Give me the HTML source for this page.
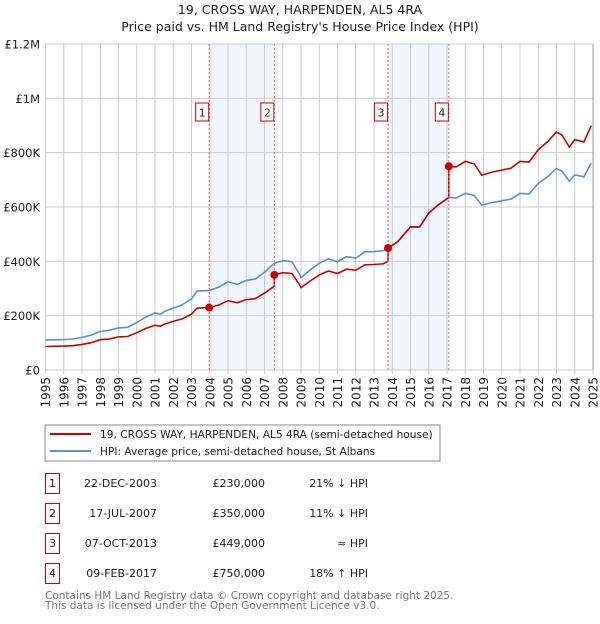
<!DOCTYPE html>
<html><head><meta charset="utf-8"><style>
body{margin:0;width:600px;height:620px;background:#fff;font-family:"DejaVu Sans","Liberation Sans",sans-serif;overflow:hidden}
svg text{font-family:"DejaVu Sans","Liberation Sans",sans-serif}
</style></head><body>
<svg id="c" width="600" height="620" xmlns="http://www.w3.org/2000/svg">
<text x="300" y="14" text-anchor="middle" font-size="12.5" fill="#222">19, CROSS WAY, HARPENDEN, AL5 4RA</text>
<text x="300" y="31" text-anchor="middle" font-size="12.5" fill="#222">Price paid vs. HM Land Registry's House Price Index (HPI)</text>
<g id="grid"></g><g id="marks"></g>
<rect x="45" y="425" width="395" height="36" fill="#fff" stroke="#888"/>
<line x1="50" y1="434" x2="91" y2="434" stroke="#cc0000" stroke-width="2"/>
<text x="100" y="438" font-size="10.6" fill="#222">19, CROSS WAY, HARPENDEN, AL5 4RA (semi-detached house)</text>
<line x1="50" y1="451" x2="91" y2="451" stroke="#5b8fd0" stroke-width="2"/>
<text x="100" y="455" font-size="10.6" fill="#222">HPI: Average price, semi-detached house, St Albans</text>
<g id="table"></g>
<text x="45" y="599" font-size="10.5" fill="#777">Contains HM Land Registry data © Crown copyright and database right 2025.</text>
<text x="45" y="609" font-size="10.5" fill="#777">This data is licensed under the Open Government Licence v3.0.</text>
</svg>
<script>
const hpiYears=[1995,1995.5,1996,1996.5,1997,1997.5,1998,1998.5,1999,1999.5,2000,2000.5,2001,2001.3,2001.5,2002,2002.5,2003,2003.3,2003.97,2004.5,2005,2005.5,2006,2006.5,2007,2007.54,2008,2008.5,2008.9,2009,2009.5,2010,2010.5,2011,2011.5,2012,2012.5,2013,2013.5,2013.77,2014.3,2015,2015.5,2016,2016.5,2017.1,2017.5,2018,2018.5,2018.9,2019.5,2020,2020.5,2021,2021.5,2022,2022.5,2023,2023.3,2023.7,2024,2024.5,2024.9];
const hpiValues=[110,111,112,114,120,128,142,146,155,157,175,195,210,205,215,228,240,262,290,293,305,325,315,330,335,360,393,402,399,355,340,368,393,409,399,417,412,435,436,439,449,472,527,526,578,607,635,633,650,642,607,617,623,629,650,648,687,711,742,732,695,718,711,761];
const saleDates=[2003.97,2007.54,2013.77,2017.1];
const salePrices=[230,350,449,750];
const saleLabels=["1","2","3","4"];
const saleDateText=["22-DEC-2003","17-JUL-2007","07-OCT-2013","09-FEB-2017"];
const salePriceText=["£230,000","£350,000","£449,000","£750,000"];
const saleHpiText=["21% ↓ HPI","11% ↓ HPI","≈ HPI","18% ↑ HPI"];
const yTicks=[0,200,400,600,800,1000,1200];
const yTickLabels=["£0","£200K","£400K","£600K","£800K","£1M","£1.2M"];
const xTicks=[];for(let y=1995;y<=2025;y++)xTicks.push(y);

const X0=45.5,X1=593,Y0=370,Y1=44;
const sx=t=>X0+(t-1995)/(2025-1995)*(X1-X0);
const sy=v=>Y0-v/1200*(Y0-Y1);
const NS="http://www.w3.org/2000/svg";
function mk(tag,attrs,parent,txt){const e=document.createElementNS(NS,tag);for(const k in attrs)e.setAttribute(k,attrs[k]);if(txt!==undefined)e.textContent=txt;parent.appendChild(e);return e;}
const grid=document.getElementById('grid'),marks=document.getElementById('marks'),table=document.getElementById('table');
function hpiAt(t){for(let i=0;i<hpiYears.length-1;i++){if(t<=hpiYears[i+1]){const f=(t-hpiYears[i])/(hpiYears[i+1]-hpiYears[i]);return hpiValues[i]+f*(hpiValues[i+1]-hpiValues[i]);}}return hpiValues[hpiValues.length-1];}
for(let i=0;i<saleDates.length;i+=2){
 const r=mk('rect',{x:sx(saleDates[i]),y:Y1,width:sx(saleDates[i+1])-sx(saleDates[i]),height:Y0-Y1,fill:'#eef2fc',opacity:0.8},grid);
 
 
}
xTicks.forEach(y=>{
 const l=mk('line',{x1:sx(y),y1:Y1,x2:sx(y),y2:Y0+4,stroke:'#ccc','stroke-width':1},grid);
 
 
 const t=mk('text',{x:0,y:0,transform:`translate(${sx(y)+4.5},${Y0+7}) rotate(-90)`,'text-anchor':'end','font-size':12,fill:'#222'},grid,String(y));
 
 
});
yTicks.forEach((v,i)=>{
 const l=mk('line',{x1:X0,y1:sy(v),x2:X1,y2:sy(v),stroke:'#ccc','stroke-width':1},grid);
 
 
 const t=mk('text',{x:40,y:sy(v)+4.5,'text-anchor':'end','font-size':11.5,fill:'#222'},grid,yTickLabels[i]);
 
 
});
let d='';hpiYears.forEach((t,i)=>{d+=(i?'L':'M')+sx(t).toFixed(1)+','+sy(hpiValues[i]).toFixed(1);});
const hl=mk('path',{d:d,fill:'none',stroke:'#5b8fd0','stroke-width':1.6},marks);


const pts=[];
const ratio=i=>salePrices[i]/hpiAt(saleDates[i]);
hpiYears.forEach((t,i)=>{let k=0;for(let j=0;j<saleDates.length;j++)if(saleDates[j]<=t)k=j;pts.push([t,hpiValues[i]*ratio(k)]);});
saleDates.forEach((t,j)=>{if(j>0)pts.push([t-0.001,hpiAt(t)*ratio(j-1)]);pts.push([t,salePrices[j]]);});
pts.sort((a,b)=>a[0]-b[0]);
d='';pts.forEach((p,i)=>{d+=(i?'L':'M')+sx(p[0]).toFixed(1)+','+sy(p[1]).toFixed(1);});
const pl=mk('path',{d:d,fill:'none',stroke:'#cc0000','stroke-width':1.6},marks);


saleDates.forEach((t,i)=>{
 const v=mk('line',{x1:sx(t),y1:Y1,x2:sx(t),y2:Y0,stroke:'#f06060','stroke-width':1,'stroke-dasharray':'2,2'},marks);
 
 
 const b=mk('rect',{x:sx(t)-13.5,y:103,width:13,height:18,fill:'#fff',stroke:'#cc0000'},marks);
 
 
 const tx=mk('text',{x:sx(t)-7,y:116.5,'text-anchor':'middle','font-size':11,fill:'#222'},marks,saleLabels[i]);
 
 
 const c=mk('circle',{cx:sx(t),cy:sy(salePrices[i]),r:4,fill:'#cc0000'},marks);
 
 
});
mk('line',{x1:X1,y1:Y1,x2:X1,y2:Y0,stroke:'#999','stroke-width':1},marks);
saleDates.forEach((t,i)=>{
 const cy=483+i*30;
 const b=mk('rect',{x:45.5,y:cy-9.5,width:14,height:20,fill:'#fff',stroke:'#cc0000'},table);
 
 
 const n=mk('text',{x:52.5,y:cy+4,'text-anchor':'middle','font-size':11,fill:'#222'},table,saleLabels[i]);
 
 
 const dt=mk('text',{x:157,y:cy+4,'text-anchor':'end','font-size':11,fill:'#222'},table,saleDateText[i]);
 
 
 const pr=mk('text',{x:265,y:cy+4,'text-anchor':'end','font-size':11,fill:'#222'},table,salePriceText[i]);
 
 
 const h=mk('text',{x:368,y:cy+4,'text-anchor':'end','font-size':11,fill:'#222'},table,saleHpiText[i]);
 
 
});
</script>
</body></html>
